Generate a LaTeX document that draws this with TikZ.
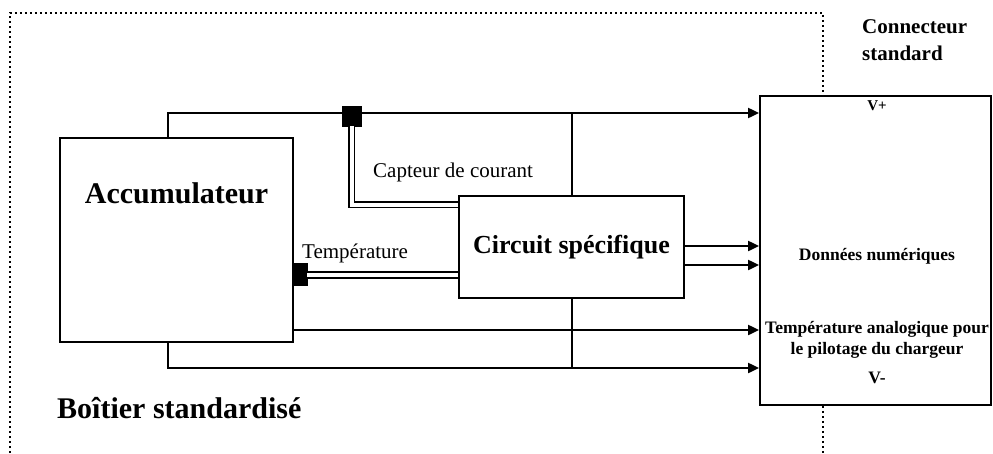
\documentclass[tikz,border=0pt]{standalone}
\usepackage{fontspec}
\setmainfont{Liberation Serif}
\usetikzlibrary{arrows.meta}
\tikzset{
  box/.style={draw, line width=1.8pt, rectangle, inner sep=0pt},
  wire/.style={line width=2pt},
  arr/.style={line width=2pt, -{Triangle[length=11pt,width=10pt]}},
  dbl/.style={double, double distance=4pt, line width=1.7pt},
  sensor/.style={fill=black, draw=black, inner sep=0pt},
  frame/.style={line width=1.8pt, dash pattern=on 1.8pt off 3.2pt},
  bigbold/.style={inner sep=0pt, font=\fontsize{30}{34}\selectfont\bfseries},
  plain/.style={inner sep=0pt, font=\fontsize{21}{25}\selectfont},
  small/.style={inner sep=0pt, font=\fontsize{17.5}{21}\selectfont\bfseries},
}
\begin{document}
\begin{tikzpicture}[x=1pt, y=-1pt]
\useasboundingbox (0,0) rectangle (993,453);
% boxes
\node[box, minimum width=233pt, minimum height=204pt] (acc) at (176.5,240) {};
\node[box, minimum width=225pt, minimum height=102pt,
      font=\fontsize{26}{30}\selectfont\bfseries] (circ) at (571.5,247) {Circuit spécifique};
\node[box, minimum width=231pt, minimum height=309pt] (conn) at (875.5,250.5) {};
% frame
\draw[frame] (10,453) -- (10,13) -- (823,13) -- (conn.north -| 823,0);
\draw[frame] (conn.south -| 823,0) -- (823,453);
% wires
\draw[arr] (acc.north -| 168,0) |- (conn.west |- 0,113);
\draw[wire] (circ.north) -- (circ.north |- 0,113);
\draw[wire] (circ.south) -- (circ.south |- 0,368);
\draw[arr] (circ.east |- 0,246) -- (conn.west |- 0,246);
\draw[arr] (circ.east |- 0,265) -- (conn.west |- 0,265);
\draw[arr] (acc.east |- 0,330) -- (conn.west |- 0,330);
\draw[arr] (acc.south -| 168,0) |- (conn.west |- 0,368);
% sensors
\node[sensor, minimum width=19pt, minimum height=20pt] (sq1) at (351.5,116) {};
\node[sensor, minimum width=14pt, minimum height=22pt] (sq2) at (300,274) {};
\draw[dbl] (sq1.south) |- (circ.west |- 0,204.5);
\draw[dbl] (sq2.east |- 0,275) -- (circ.west |- 0,275);
% texts
\node[bigbold, anchor=base] (tacc) at (176.5,203) {Accumulateur};
\node[bigbold, anchor=base west] (tbox) at (57,418) {Boîtier standardisé};
\node[plain, anchor=base west] (tcap) at (373,177) {Capteur de courant};
\node[plain, anchor=base west] (ttemp) at (302,258) {Température};
\node[inner sep=0pt, align=left, anchor=north west,
      font=\fontsize{21}{27}\selectfont\bfseries] (tconn) at (862,19) {Connecteur\\standard};
\node[small, font=\fontsize{15}{18}\selectfont\bfseries, anchor=base] (tvp) at (877,110) {V+};
\node[small, anchor=base] (tdon) at (877,260) {Données numériques};
\node[small, anchor=base] (tta1) at (877,333) {Température analogique pour};
\node[small, anchor=base] (tta2) at (877,354) {le pilotage du chargeur};
\node[small, anchor=base] (tvm) at (877,383) {V-};
\end{tikzpicture}
\end{document}
